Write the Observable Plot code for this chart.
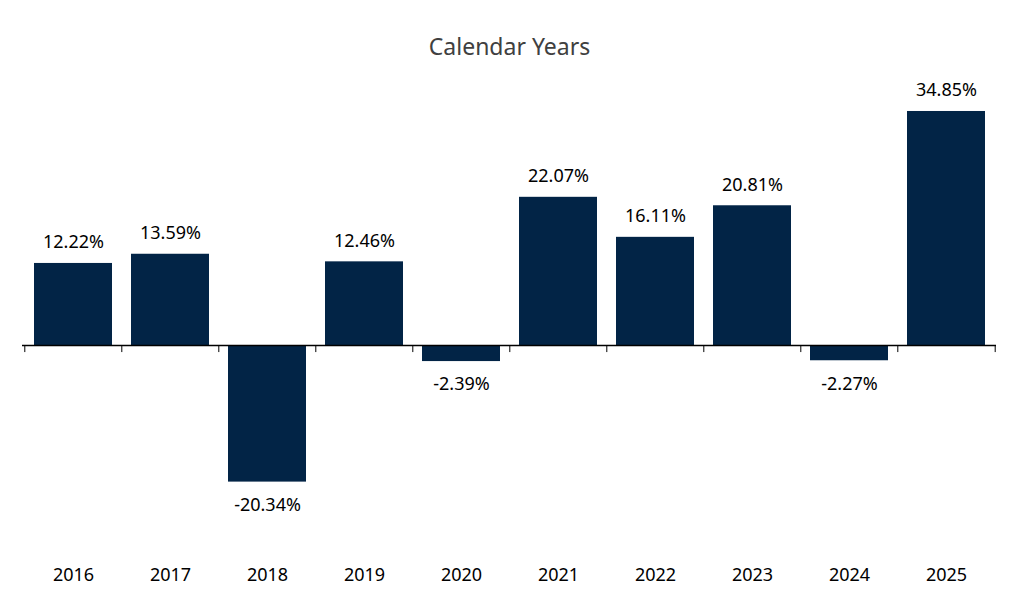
<!DOCTYPE html>
<html>
<head>
<meta charset="utf-8">
<script src="https://cdn.jsdelivr.net/npm/d3@7"></script>
<script src="https://cdn.jsdelivr.net/npm/@observablehq/plot@0.6"></script>
<style>
  body { margin: 0; background: #fff; font-family: "Noto Sans", sans-serif; }
  #title { height: 70px; line-height: 92px; text-align: center; font-size: 23px; color: #404040; }
</style>
</head>
<body>
<div id="title">Calendar Years</div>
<div id="chart"></div>
<script>
const years = ["2016","2017","2018","2019","2020","2021","2022","2023","2024","2025"];
const returns = [12.22, 13.59, -20.34, 12.46, -2.39, 22.07, 16.11, 20.81, -2.27, 34.85];

const data = years.map((y, i) => ({year: y, value: returns[i]}));
const W = 1019, H = 530, mL = 22, mR = 23;
const step = (W - mL - mR) / years.length;
const barColor = "#022446";

const chart = Plot.plot({
  width: W,
  height: H,
  marginLeft: mL,
  marginRight: mR,
  marginTop: 6.4,
  marginBottom: 87.1,
  style: {fontFamily: "Noto Sans, sans-serif", fontSize: "18px", color: "#000", background: "#fff"},
  x: {domain: years, paddingInner: 0.2, paddingOuter: 0.1, label: null, tickSize: 0, tickPadding: 55},
  y: {domain: [-25, 40], axis: null},
  marks: [
    Plot.barY(data, {x: "year", y: "value", fill: barColor}),
    Plot.ruleY([0], {stroke: "#000", strokeWidth: 1.3}),
    Plot.ruleX(years, {x: d => d, y1: 0, y2: -1.05, dx: -step / 2, stroke: "#000"}),
    Plot.ruleX([years[years.length - 1]], {x: d => d, y1: 0, y2: -1.05, dx: step / 2, stroke: "#000"}),
    Plot.text(data.filter(d => d.value >= 0), {
      x: "year", y: "value", text: d => d.value.toFixed(2) + "%",
      dy: -21, fill: "#000", fontSize: 18
    }),
    Plot.text(data.filter(d => d.value < 0), {
      x: "year", y: "value", text: d => d.value.toFixed(2) + "%",
      dy: 23, fill: "#000", fontSize: 18
    })
  ]
});
document.getElementById("chart").appendChild(chart);
</script>
</body>
</html>
